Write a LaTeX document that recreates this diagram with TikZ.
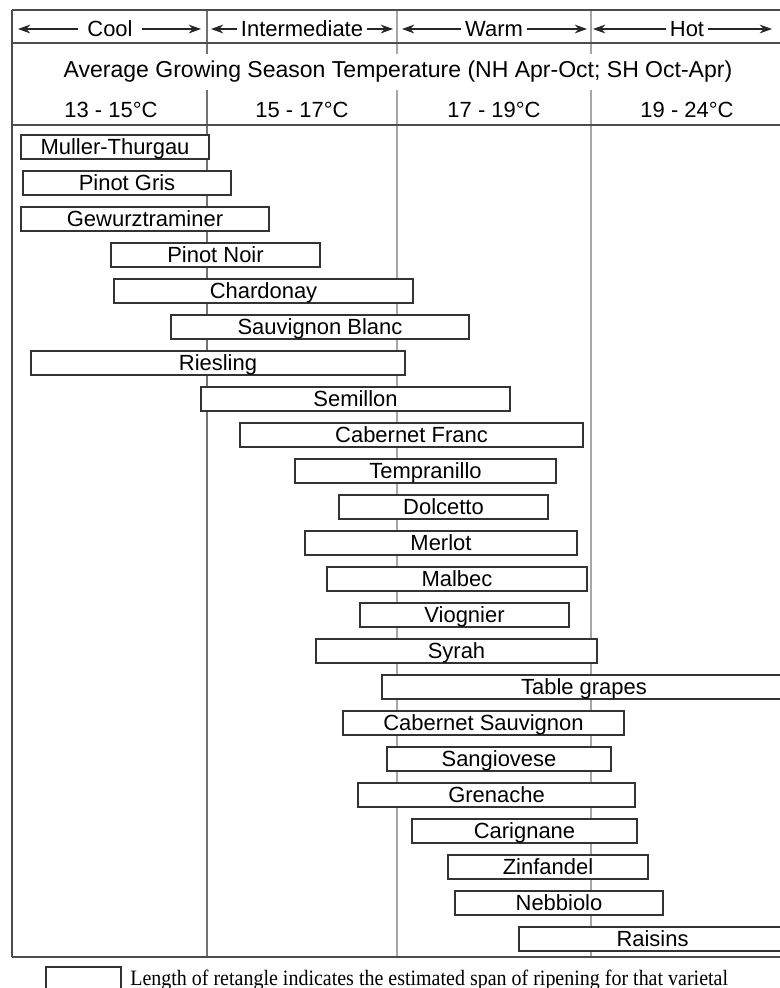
\documentclass[tikz,border=0pt]{standalone}
\usepackage{fontspec}
\setmainfont{Liberation Sans}
\newfontfamily\legendfont[FakeStretch=0.91]{Liberation Serif}
\usetikzlibrary{arrows.meta}

\begin{document}
\begin{tikzpicture}[x=0.02cm, y=-0.02cm,
	font=\fontsize{12.5}{15}\selectfont,
	outline/.style={draw=black!70, line width=1pt},
	zoneline/.style={draw=black!35, line width=1pt},
	hdr/.style={inner sep=2pt, text height=8.9pt, text depth=0pt},
	span/.style={draw=black!85, line width=0.6pt, -{Stealth[length=7pt,width=5pt]}},
	barbox/.style={draw=black!80, line width=0.9pt, fill=white, inner sep=0pt, minimum height=0.48cm, text height=8.9pt, text depth=0pt}]
	\clip (0,0) rectangle (780,988);
	%\draw[help lines] (0,0) grid (780,988);
	\draw[zoneline] (397,10) -- (397,957);
	\draw[zoneline] (591,10) -- (591,957);
	\draw[outline, draw=black!55] (207,10) -- (207,957);
	\draw[outline] (12,10) -- (786,10);
	\draw[outline] (12,43) -- (786,43);
	\draw[outline] (12,125) -- (786,125);
	\draw[outline] (12,957) -- (786,957);
	\draw[outline] (12,10) -- (12,957);
	% climate bands
	\node[hdr, inner xsep=5pt] (cool) at (110,29) {Cool};
	\node[hdr] (inter) at (302,29) {Intermediate};
	\node[hdr] (warm) at (494,29) {Warm};
	\node[hdr] (hot) at (687,29) {Hot};
	\coordinate (c-l) at (18,29); \coordinate (c-r) at (201,29);
	\coordinate (i-l) at (211,29); \coordinate (i-r) at (393,29);
	\coordinate (w-l) at (402,29); \coordinate (w-r) at (587,29);
	\coordinate (h-l) at (593,29); \coordinate (h-r) at (772,29);
	\draw[span] (cool) -- (c-l); \draw[span] (cool) -- (c-r);
	\draw[span] (inter) -- (i-l); \draw[span] (inter) -- (i-r);
	\draw[span] (warm) -- (w-l); \draw[span] (warm) -- (w-r);
	\draw[span] (hot) -- (h-l); \draw[span] (hot) -- (h-r);
	\node[fill=white, inner sep=4pt, font=\fontsize{13.1}{15}\selectfont] (title) at (398,72) {Average Growing Season Temperature (NH Apr-Oct; SH Oct-Apr)};
	\node (t1) at (111,110) {13 - 15°C};
	\node (t2) at (302,110) {15 - 17°C};
	\node (t3) at (494,110) {17 - 19°C};
	\node (t4) at (687,110) {19 - 24°C};
	% varietals
	\node[barbox, minimum width=3.76cm] (muller) at (115,147) {Muller-Thurgau};
	\node[barbox, minimum width=4.16cm] (pinotgris) at (127,183) {Pinot Gris};
	\node[barbox, minimum width=4.96cm] (gewurz) at (145,219) {Gewurztraminer};
	\node[barbox, minimum width=4.18cm] (pinotnoir) at (215.5,255) {Pinot Noir};
	\node[barbox, minimum width=5.98cm] (chardonay) at (263.5,291) {Chardonay};
	\node[barbox, minimum width=5.96cm] (sauvblanc) at (320,327) {Sauvignon Blanc};
	\node[barbox, minimum width=7.48cm] (riesling) at (218,363) {Riesling};
	\node[barbox, minimum width=6.18cm] (semillon) at (355.5,399) {Semillon};
	\node[barbox, minimum width=6.86cm] (cabfranc) at (411.5,435) {Cabernet Franc};
	\node[barbox, minimum width=5.22cm] (tempranillo) at (425.5,471) {Tempranillo};
	\node[barbox, minimum width=4.18cm] (dolcetto) at (443.5,507) {Dolcetto};
	\node[barbox, minimum width=5.44cm] (merlot) at (441,543) {Merlot};
	\node[barbox, minimum width=5.2cm] (malbec) at (457,579) {Malbec};
	\node[barbox, minimum width=4.18cm] (viognier) at (464.5,615) {Viognier};
	\node[barbox, minimum width=5.62cm] (syrah) at (456.5,651) {Syrah};
	\node[barbox, minimum width=8.08cm] (tablegr) at (584,687) {Table grapes};
	\node[barbox, minimum width=5.62cm] (cabsauv) at (483.5,723) {Cabernet Sauvignon};
	\node[barbox, minimum width=4.48cm] (sangiovese) at (499,759) {Sangiovese};
	\node[barbox, minimum width=5.54cm] (grenache) at (496.5,795) {Grenache};
	\node[barbox, minimum width=4.5cm] (carignane) at (524.5,831) {Carignane};
	\node[barbox, minimum width=4cm] (zinfandel) at (548,867) {Zinfandel};
	\node[barbox, minimum width=4.16cm] (nebbiolo) at (559,903) {Nebbiolo};
	\node[barbox, minimum width=5.34cm] (raisins) at (652.5,939) {Raisins};
	% key
	\node[draw=black!80, line width=0.9pt, minimum width=1.5cm, minimum height=0.72cm] (keybox) at (83.5,985) {};
	\node[anchor=base west, inner sep=0pt] (keytext) at (130,985) {\legendfont Length of retangle indicates the estimated span of ripening for that varietal};
\end{tikzpicture}
\end{document}
